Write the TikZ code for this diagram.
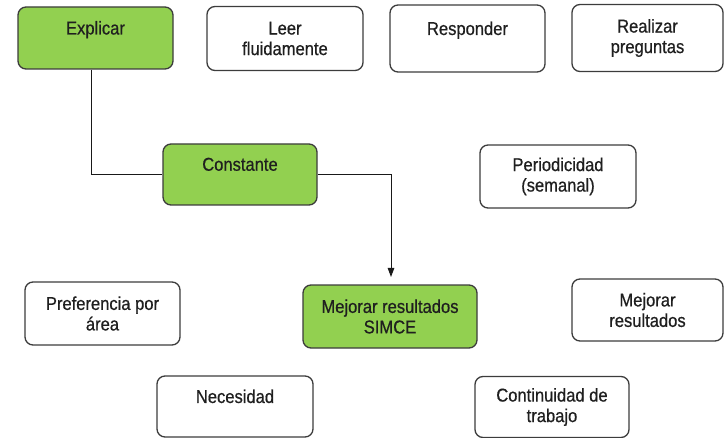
\documentclass[tikz,border=0pt]{standalone}
\usepackage{fontspec}
\setmainfont[FakeStretch=0.89, FakeBold=0.6]{Liberation Sans}
\usetikzlibrary{arrows.meta}
\definecolor{leafgreen}{HTML}{92D050}
\definecolor{edgegray}{HTML}{3C3C3C}
\tikzset{
  card/.style={draw=edgegray, line width=1.3pt, rounded corners=8pt,
    align=center, inner sep=0pt, text=black!88,
    font=\fontsize{18.6}{20.5}\selectfont},
  plain/.style={card, fill=white},
  keycard/.style={card, fill=leafgreen},
  link/.style={draw=black!90, line width=0.9pt},
}
\begin{document}
\begin{tikzpicture}[x=1pt, y=-1pt]
  \useasboundingbox (0,0) rectangle (725,438);
  % top row
  \node[keycard, minimum width=155pt, minimum height=62pt] (explicar) at (95.5,38) {Explicar\\\mbox{}};
  \node[plain, minimum width=156pt, minimum height=64pt] (leer) at (285,38.5) {Leer\\fluidamente};
  \node[plain, minimum width=155pt, minimum height=67pt] (responder) at (467.5,38.5) {Responder\\\mbox{}};
  \node[plain, minimum width=151pt, minimum height=67pt] (preguntas) at (647.5,38) {Realizar\\preguntas};
  % middle row
  \node[keycard, minimum width=154pt, minimum height=61pt] (constante) at (240,174.5) {Constante\\\mbox{}};
  \node[plain, minimum width=156pt, minimum height=63pt] (periodicidad) at (558,176.5) {Periodicidad\\(semanal)};
  % lower rows
  \node[plain, minimum width=155pt, minimum height=63pt] (preferencia) at (102.5,313.5) {Preferencia por\\área};
  \node[keycard, minimum width=174pt, minimum height=63pt] (simce) at (390,316.5) {Mejorar resultados\\SIMCE};
  \node[plain, minimum width=151pt, minimum height=62pt] (resultados) at (647.5,310) {Mejorar\\resultados};
  \node[plain, minimum width=156pt, minimum height=61pt] (necesidad) at (235,406.5) {Necesidad\\\mbox{}};
  \node[plain, minimum width=154pt, minimum height=61pt] (continuidad) at (552,407) {Continuidad de\\trabajo};
  % connectors
  \coordinate (tip) at (391,277);
  \draw[link] ([xshift=-4.5pt]explicar.south) |- (constante.west);
  \draw[link, -{Triangle[length=9pt,width=6.5pt]}] (constante.east) -| (tip);
\end{tikzpicture}
\end{document}
